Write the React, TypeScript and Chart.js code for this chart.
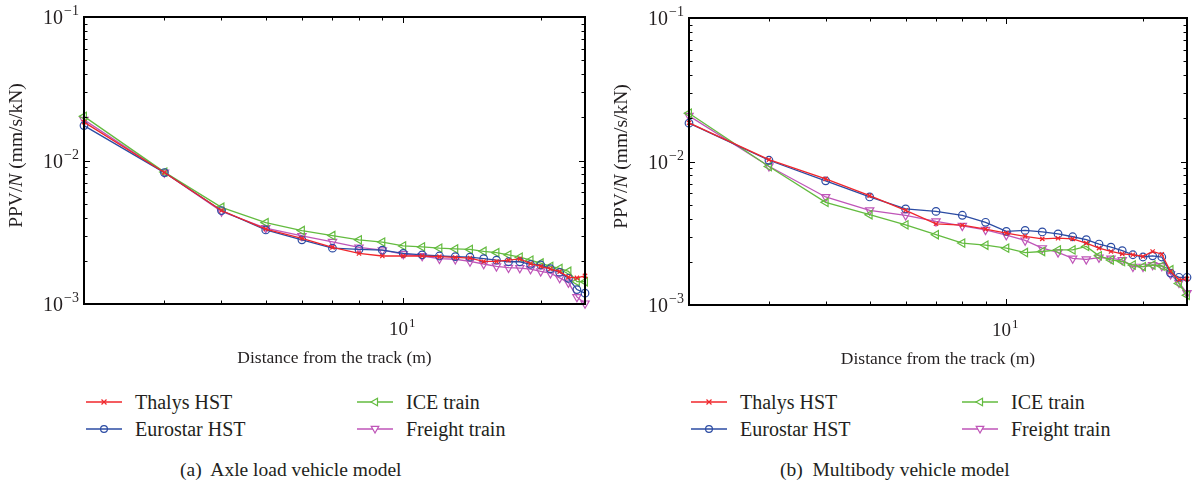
import React, { useEffect, useRef } from "react";
import { Chart, registerables } from "chart.js";

Chart.register(...registerables);

// ---------- data ----------
const distances = [2, 3, 4, 5, 6, 7, 8, 9, 10, 11, 12, 13, 14, 15, 16, 17, 18, 19, 20, 21, 22, 23, 24, 25];

// (a) Axle load vehicle model
const axleThalys = [0.0185, 0.00824, 0.00448, 0.00333, 0.00287, 0.00248, 0.00225, 0.00216, 0.00216, 0.00216, 0.00214, 0.00211, 0.00209, 0.00198, 0.00198, 0.00202, 0.00206, 0.00191, 0.00183, 0.00176, 0.00168, 0.00154, 0.00152, 0.00157];
const axleEurostar = [0.0175, 0.00824, 0.00448, 0.00328, 0.0028, 0.00245, 0.0024, 0.00237, 0.00225, 0.0022, 0.00216, 0.00214, 0.00212, 0.00207, 0.00202, 0.00197, 0.00197, 0.00189, 0.00187, 0.00176, 0.00166, 0.00151, 0.00126, 0.00119];
const axleIce = [0.0203, 0.0083, 0.00472, 0.00369, 0.00325, 0.003, 0.0028, 0.0027, 0.00254, 0.0025, 0.00245, 0.00242, 0.0024, 0.00233, 0.00228, 0.0022, 0.00212, 0.00202, 0.00193, 0.00183, 0.00177, 0.00169, 0.00143, 0.00143];
const axleFreight = [0.0192, 0.00824, 0.00441, 0.00338, 0.00298, 0.00271, 0.00248, 0.00237, 0.00223, 0.00216, 0.00207, 0.00205, 0.00198, 0.0019, 0.00183, 0.00179, 0.00178, 0.00175, 0.00169, 0.00164, 0.00152, 0.00141, 0.00112, 0.00101];

// (b) Multibody vehicle model
const multiThalys = [0.0186, 0.0103, 0.00757, 0.00578, 0.00457, 0.00368, 0.0036, 0.00338, 0.00317, 0.00301, 0.00289, 0.00292, 0.00289, 0.0027, 0.00249, 0.00236, 0.00227, 0.00224, 0.00218, 0.00236, 0.00226, 0.00171, 0.0015, 0.00152];
const multiEurostar = [0.0185, 0.0102, 0.00733, 0.00566, 0.00467, 0.00449, 0.00422, 0.00377, 0.00326, 0.00331, 0.00323, 0.00313, 0.00299, 0.00285, 0.00266, 0.00253, 0.00239, 0.00224, 0.00216, 0.0022, 0.00216, 0.00167, 0.00156, 0.00156];
const multiIce = [0.0217, 0.00922, 0.00519, 0.00426, 0.00362, 0.00309, 0.0027, 0.00261, 0.00249, 0.00232, 0.00236, 0.00242, 0.00242, 0.00256, 0.0022, 0.00206, 0.00201, 0.0019, 0.00185, 0.0019, 0.00187, 0.00176, 0.00141, 0.00117];
const multiFreight = [0.0208, 0.00927, 0.00566, 0.00457, 0.00422, 0.00383, 0.00356, 0.00334, 0.00307, 0.00282, 0.00249, 0.00233, 0.00211, 0.00208, 0.00214, 0.00211, 0.00206, 0.00185, 0.00185, 0.0019, 0.00187, 0.00164, 0.00143, 0.00121];

const seriesNames = ["Thalys HST", "Eurostar HST", "ICE train", "Freight train"];

// axis ticks
const xTicks = [2, 3, 4, 5, 6, 7, 8, 9, 10, 20];
const xMajorTicks = [10];
const xTickLabels = [{ value: 10, base: "10", exp: "1" }];
const yTicks = [
  0.001, 0.002, 0.003, 0.004, 0.005, 0.006, 0.007, 0.008, 0.009,
  0.01, 0.02, 0.03, 0.04, 0.05, 0.06, 0.07, 0.08, 0.09, 0.1,
];
const yMajorTicks = [0.001, 0.01, 0.1];
const yTickLabels = [
  { value: 0.1, base: "10", exp: "\u22121" },
  { value: 0.01, base: "10", exp: "\u22122" },
  { value: 0.001, base: "10", exp: "\u22123" },
];
const xTitle = "Distance from the track (m)";
const yTitleParts = [
  { text: "PPV/", italic: false },
  { text: "N", italic: true },
  { text: " (mm/s/kN)", italic: false },
];

// ---------- styles ----------
const FONT = '"Liberation Serif", "DejaVu Serif", serif';
const TEXT = "#231f20";
const styles = [
  { color: "#f0262b", pointStyle: "crossRot", rotation: 0, radius: 3 },
  { color: "#2b4ba3", pointStyle: "circle", rotation: 0, radius: 3.8 },
  { color: "#63bb3f", pointStyle: "triangle", rotation: -90, radius: 4.8 },
  { color: "#bf55b8", pointStyle: "triangle", rotation: 180, radius: 4.8 },
];

function drawPow(ctx: CanvasRenderingContext2D, base: string, exp: string, x: number, baseline: number, align: "right" | "center", bigSize: number, smallSize: number, raise: number) {
  ctx.font = `${bigSize}px ${FONT}`;
  const wb = ctx.measureText(base).width;
  ctx.font = `${smallSize}px ${FONT}`;
  const we = ctx.measureText(exp).width;
  const total = wb + 1 + we;
  const start = align === "right" ? x - total : x - total / 2;
  ctx.textAlign = "left";
  ctx.textBaseline = "alphabetic";
  ctx.font = `${bigSize}px ${FONT}`;
  ctx.fillText(base, start, baseline);
  ctx.font = `${smallSize}px ${FONT}`;
  ctx.fillText(exp, start + wb + 1, baseline - raise);
}

const framePlugin = {
  id: "frameAxes",
  afterDatasetsDraw(chart: any) {
    const { ctx, chartArea: a, scales } = chart;
    const xs = scales.x;
    const ys = scales.y;
    ctx.save();
    ctx.strokeStyle = "#000";
    ctx.lineWidth = 1;
    ctx.beginPath();
    for (const v of xTicks) {
      const px = Math.round(xs.getPixelForValue(v)) + 0.5;
      const len = xMajorTicks.includes(v) ? 6 : 3.5;
      ctx.moveTo(px, a.bottom);
      ctx.lineTo(px, a.bottom - len);
      ctx.moveTo(px, a.top);
      ctx.lineTo(px, a.top + len);
    }
    for (const v of yTicks) {
      const py = Math.round(ys.getPixelForValue(v)) + 0.5;
      const len = yMajorTicks.includes(v) ? 6 : 3.5;
      ctx.moveTo(a.left, py);
      ctx.lineTo(a.left + len, py);
      ctx.moveTo(a.right, py);
      ctx.lineTo(a.right - len, py);
    }
    ctx.stroke();
    ctx.lineWidth = 2;
    ctx.strokeRect(a.left, a.top, a.right - a.left, a.bottom - a.top);

    ctx.fillStyle = TEXT;
    for (const t of yTickLabels) {
      const py = ys.getPixelForValue(t.value);
      drawPow(ctx, t.base, t.exp, a.left - 5, py + 7, "right", 20, 14, 9);
    }
    for (const t of xTickLabels) {
      const px = xs.getPixelForValue(t.value);
      drawPow(ctx, t.base, t.exp, px - 1, a.bottom + 31, "center", 19, 13, 8);
    }
    // x title
    ctx.font = `17.5px ${FONT}`;
    ctx.textAlign = "center";
    ctx.textBaseline = "alphabetic";
    ctx.fillText(xTitle, (a.left + a.right) / 2, a.bottom + 59);
    // y title (rotated, mixed italic)
    ctx.save();
    ctx.translate(a.left - 67, (a.top + a.bottom) / 2 - 5);
    ctx.rotate(-Math.PI / 2);
    const widths = yTitleParts.map((p) => {
      ctx.font = `${p.italic ? "italic " : ""}19.5px ${FONT}`;
      return ctx.measureText(p.text).width;
    });
    const total = widths.reduce((s, w) => s + w, 0);
    let cx = -total / 2;
    ctx.textAlign = "left";
    ctx.textBaseline = "middle";
    yTitleParts.forEach((p, i) => {
      ctx.font = `${p.italic ? "italic " : ""}19.5px ${FONT}`;
      ctx.fillText(p.text, cx, 0);
      cx += widths[i];
    });
    ctx.restore();
    ctx.restore();
  },
};

function Marker({ style }: { style: any }) {
  const c = style.color;
  let m: any = null;
  if (style.pointStyle === "crossRot") {
    m = <path d="M15.5 4.5 L20.5 9.5 M20.5 4.5 L15.5 9.5" stroke={c} strokeWidth={1.2} />;
  } else if (style.pointStyle === "circle") {
    m = <circle cx={18} cy={7} r={3.4} stroke={c} fill="none" strokeWidth={1.2} />;
  } else if (style.rotation === -90) {
    m = <polygon points="14,7 20.5,3.2 20.5,10.8" stroke={c} fill="white" strokeWidth={1.2} />;
  } else {
    m = <polygon points="18,11 14.2,4.4 21.8,4.4" stroke={c} fill="white" strokeWidth={1.2} />;
  }
  return (
    <svg width={36} height={14} style={{ display: "block" }}>
      <line x1={0} y1={7} x2={36} y2={7} stroke={c} strokeWidth={1.3} />
      {m}
    </svg>
  );
}

function Panel({ left, values, caption, pad, legendCols, captionLeft }: any) {
  const ref = useRef<HTMLCanvasElement>(null);
  useEffect(() => {
    const chart = new Chart(ref.current!, {
      type: "line",
      data: {
        datasets: values.map((vals: number[], i: number) => ({
          label: seriesNames[i],
          data: distances.map((d, j) => ({ x: d, y: vals[j] })),
          borderColor: styles[i].color,
          backgroundColor: "rgba(0,0,0,0)",
          borderWidth: 1.3,
          pointStyle: styles[i].pointStyle,
          pointRotation: styles[i].rotation,
          pointRadius: styles[i].radius,
          pointBorderWidth: 1.2,
          pointBorderColor: styles[i].color,
          pointBackgroundColor: "rgba(0,0,0,0)",
          tension: 0,
          clip: false,
        })),
      },
      options: {
        animation: false,
        responsive: false,
        devicePixelRatio: 1,
        events: [],
        layout: { padding: pad },
        plugins: { legend: { display: false }, tooltip: { enabled: false } },
        scales: {
          x: { type: "logarithmic", min: 2, max: 25, display: false },
          y: { type: "logarithmic", min: 0.001, max: 0.1, display: false },
        },
      } as any,
      plugins: [framePlugin],
    });
    return () => chart.destroy();
  }, []);

  const rows = [402, 429];
  const entries = [0, 1, 2, 3].map((i) => ({ i, col: i < 2 ? 0 : 1, row: i % 2 }));

  return (
    <div style={{ position: "absolute", left, top: 0, width: 596, height: 483 }}>
      <canvas ref={ref} width={596} height={380} style={{ position: "absolute", left: 0, top: 0, width: 596, height: 380 }} />
      {entries.map(({ i, col, row }) => (
        <div key={i} style={{ position: "absolute", left: legendCols[col], top: rows[row] - 12, height: 24, display: "flex", alignItems: "center", whiteSpace: "nowrap", fontFamily: FONT, fontSize: 20, color: TEXT }}>
          <Marker style={styles[i]} />
          <span style={{ marginLeft: 13 }}>{seriesNames[i]}</span>
        </div>
      ))}
      <div style={{ position: "absolute", left: captionLeft, top: 458, whiteSpace: "pre", fontFamily: FONT, fontSize: 19.5, color: TEXT, lineHeight: "24px" }}>
        {caption}
      </div>
    </div>
  );
}

export default function App() {
  return (
    <div style={{ position: "fixed", left: 0, top: 0, width: 1193, height: 483, background: "#fff", overflow: "hidden" }}>
      <Panel
        left={0}
        values={[axleThalys, axleEurostar, axleIce, axleFreight]}
        caption={"(a)  Axle load vehicle model"}
        pad={{ left: 84, top: 17, right: 11, bottom: 76 }}
        legendCols={[86, 357]}
        captionLeft={180}
      />
      <Panel
        left={597}
        values={[multiThalys, multiEurostar, multiIce, multiFreight]}
        caption={"(b)  Multibody vehicle model"}
        pad={{ left: 92, top: 18, right: 4, bottom: 75 }}
        legendCols={[94, 365]}
        captionLeft={183}
      />
    </div>
  );
}
